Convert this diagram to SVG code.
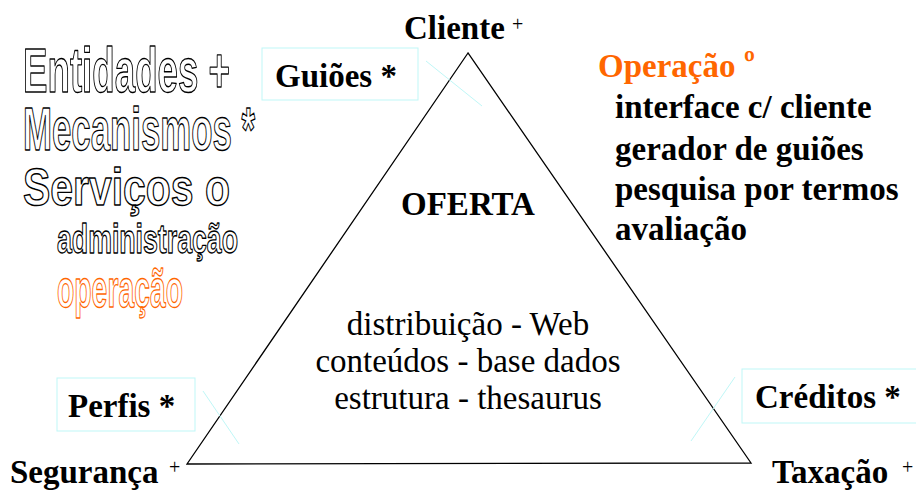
<svg xmlns="http://www.w3.org/2000/svg" width="916" height="493" viewBox="0 0 916 493">
<style>
.b{font-weight:bold;font-size:33px;fill:#000}
.n{font-size:33px;fill:#000}
.sup{font-size:20px;fill:#000}
.o{font-weight:bold;fill:#fff;stroke:#000;stroke-width:1.4px;stroke-linejoin:round}
.or{fill:#ff6600}
.box{fill:none;stroke:#bff7f7;stroke-width:1}
.cl{stroke:#bff7f7;stroke-width:1;fill:none}
</style>
<rect width="916" height="493" fill="#fff"/>
<g id="triangle">
<polygon points="468,53 187,464 751,463" fill="none" stroke="#000" stroke-width="1.3"/>
</g>
<g id="connectors">
<line class="cl" x1="426" y1="61" x2="482" y2="106"/>
<line class="cl" x1="203" y1="391" x2="239" y2="444"/>
<line class="cl" x1="735" y1="377" x2="691" y2="441"/>
</g>
<g id="legend" font-family="Liberation Sans, Arial, sans-serif">
<text class="o" x="23" y="92" font-size="63" textLength="207" lengthAdjust="spacingAndGlyphs">Entidades +</text>
<text class="o" x="23" y="150" font-size="62" textLength="232" lengthAdjust="spacingAndGlyphs">Mecanismos *</text>
<text class="o" x="23" y="205" font-size="52" textLength="207" lengthAdjust="spacingAndGlyphs">Serviços o</text>
<text class="o" x="57" y="253" font-size="41" textLength="181" lengthAdjust="spacingAndGlyphs">administração</text>
<text class="o" x="57" y="307" font-size="54" textLength="126" lengthAdjust="spacingAndGlyphs" style="stroke:#ff6600">operação</text>
</g>
<g font-family="Liberation Serif, DejaVu Serif, serif">
<g id="cliente">
<text class="b" x="404" y="39">Cliente</text>
<text class="sup" x="512" y="31">+</text>
</g>
<g id="guioes">
<rect class="box" x="262" y="48" width="156" height="52"/>
<text class="b" x="275" y="87">Guiões *</text>
</g>
<g id="operacao">
<text class="b or" x="598" y="77">Operação</text>
<text class="b or" x="744" y="74" font-size="26">º</text>
<text class="b" x="615" y="118">interface c/ cliente</text>
<text class="b" x="615" y="160">gerador de guiões</text>
<text class="b" x="615" y="200">pesquisa por termos</text>
<text class="b" x="615" y="240">avaliação</text>
</g>
<g id="oferta">
<text class="b" x="468" y="215" text-anchor="middle">OFERTA</text>
<text class="n" x="468" y="335" text-anchor="middle">distribuição - Web</text>
<text class="n" x="468" y="372" text-anchor="middle">conteúdos - base dados</text>
<text class="n" x="468" y="409" text-anchor="middle">estrutura - thesaurus</text>
</g>
<g id="perfis">
<rect class="box" x="57" y="378" width="138" height="53"/>
<text class="b" x="68" y="417">Perfis *</text>
</g>
<g id="creditos">
<rect class="box" x="742" y="369" width="180" height="54"/>
<text class="b" x="755" y="408">Créditos *</text>
</g>
<g id="seguranca">
<text class="b" x="10" y="483">Segurança</text>
<text class="sup" x="169" y="474">+</text>
</g>
<g id="taxacao">
<text class="b" x="772" y="483">Taxação</text>
<text class="sup" x="902" y="474">+</text>
</g>
</g>
</svg>
